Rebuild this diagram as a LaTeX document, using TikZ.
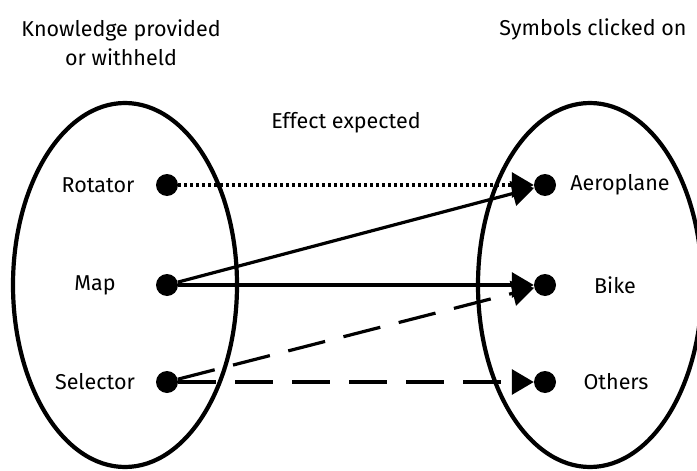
\documentclass[tikz,border=0pt]{standalone}
\usepackage{fontspec}
\setmainfont{Fira Sans}
\usetikzlibrary{arrows.meta}

\begin{document}
\begin{tikzpicture}[x=1pt,y=-1pt,
  dot/.style={circle,fill,inner sep=0pt,minimum size=22pt},
  lbl/.style={font=\fontsize{21.5}{29}\selectfont},
  link/.style={line width=3.2pt,-{Triangle[length=22pt,width=25pt]}}]
\useasboundingbox (0,0) rectangle (697,471);

% the two sets
\draw[line width=4.2pt] (125,285) ellipse [x radius=112pt, y radius=182pt];
\draw[line width=4.2pt] (590,285) ellipse [x radius=112pt, y radius=182pt];

\node[lbl,align=center] (know) at (121,43) {Knowledge provided\\or withheld};
\node[lbl] (sym) at (593,29) {Symbols clicked on};
\node[lbl] (eff) at (346,123) {Effect expected};

\node[dot] (rot) at (167,185) {};
\node[dot] (map) at (167,285) {};
\node[dot] (sel) at (167,382) {};

\node[dot] (aero) at (545,185) {};
\node[dot] (bike) at (545,285) {};
\node[dot] (oth)  at (545,382) {};

\node[lbl] (rotl) at (98,185) {Rotator};
\node[lbl] (mapl) at (95,285) {Map};
\node[lbl] (sell) at (95,382) {Selector};

\node[lbl] (aerol) at (620,185) {Aeroplane};
\node[lbl] (bikel) at (615,285) {Bike};
\node[lbl] (othl)  at (616,382) {Others};

\draw[link,dash pattern=on 3pt off 3pt] (rot) -- (aero);
\draw[link] (map) -- (aero);
\draw[link] (map) -- (bike);
\draw[link,dash pattern=on 38pt off 19pt] (sel) -- (bike);
\draw[link,dash pattern=on 38pt off 19pt] (sel) -- (oth);

\end{tikzpicture}
\end{document}
